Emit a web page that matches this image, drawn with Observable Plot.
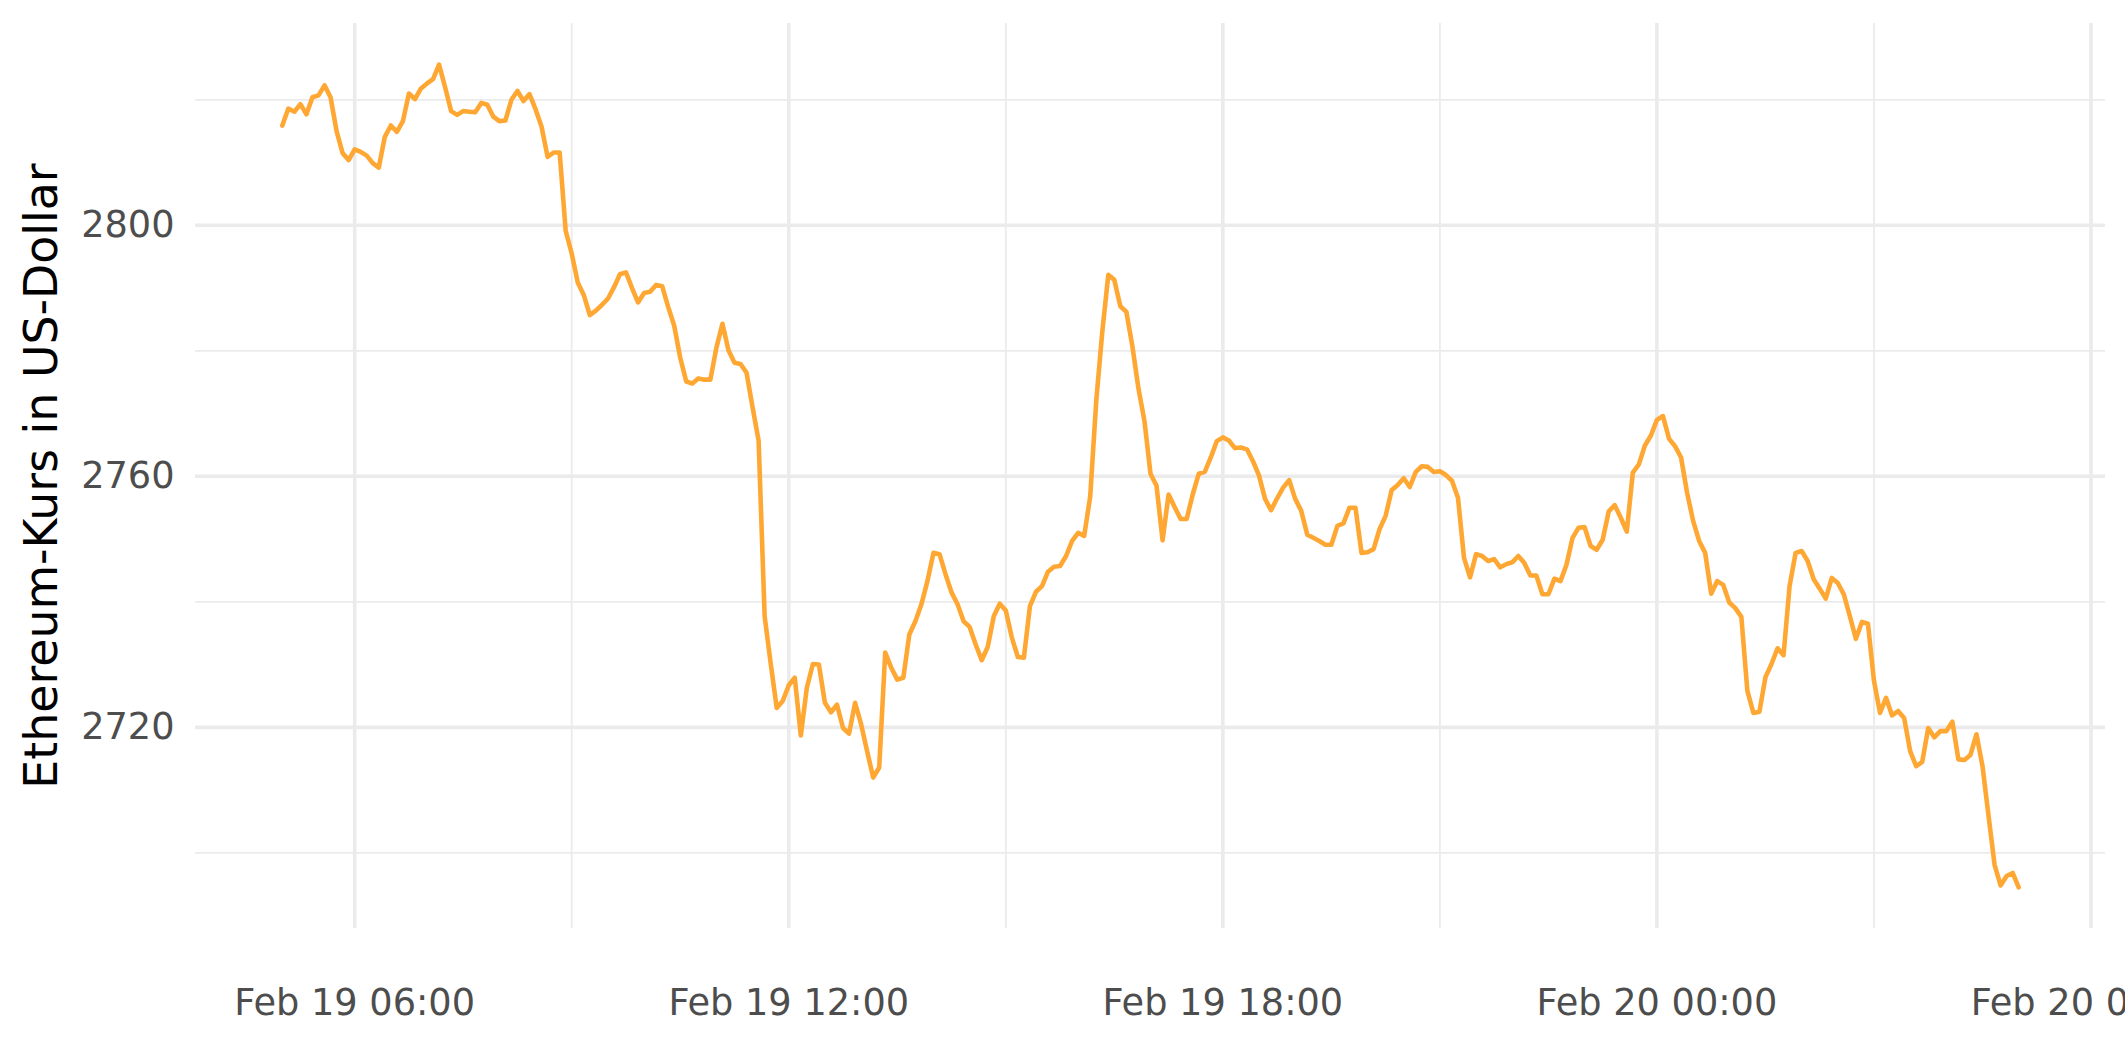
<!DOCTYPE html>
<html>
<head>
<meta charset="utf-8">
<script src="https://cdn.jsdelivr.net/npm/d3@7"></script>
<script src="https://cdn.jsdelivr.net/npm/@observablehq/plot@0.6"></script>
<style>
  html, body { margin: 0; padding: 0; background: #ffffff; }
  body { width: 2125px; height: 1062px; overflow: hidden; }
</style>
</head>
<body>
<div id="chart"></div>
<script>
// ---- data (5-minute closes, Feb 19 05:00 UTC to Feb 20 05:00 UTC) ----
const startTime = "2025-02-19T05:00:00Z";
const stepMinutes = 5;
const prices = [
  2815.9, 2818.6, 2818.1, 2819.3, 2817.7, 2820.4, 2820.7, 2822.3, 2820.4, 2815.0,
  2811.5, 2810.4, 2812.1, 2811.7, 2811.1, 2809.9, 2809.2, 2814.1, 2815.9, 2814.9,
  2816.6, 2821.0, 2820.1, 2821.8, 2822.6, 2823.3, 2825.6, 2822.0, 2818.2, 2817.6,
  2818.2, 2818.1, 2818.0, 2819.5, 2819.2, 2817.3, 2816.6, 2816.7, 2820.0, 2821.4,
  2819.8, 2820.9, 2818.5, 2815.7, 2810.9, 2811.6, 2811.6, 2799.1, 2795.5, 2790.9,
  2788.9, 2785.7, 2786.4, 2787.3, 2788.3, 2790.1, 2792.2, 2792.5, 2790.0, 2787.7,
  2789.2, 2789.4, 2790.5, 2790.3, 2787.0, 2784.0, 2778.9, 2775.1, 2774.8, 2775.6,
  2775.4, 2775.4, 2780.5, 2784.3, 2780.1, 2778.1, 2777.9, 2776.5, 2771.0, 2765.7,
  2737.7, 2730.2, 2723.1, 2724.2, 2726.7, 2727.9, 2718.7, 2726.3, 2730.1, 2730.0,
  2723.9, 2722.4, 2723.6, 2719.9, 2719.0, 2723.9, 2720.5, 2716.2, 2712.0, 2713.6,
  2731.9, 2729.5, 2727.6, 2727.9, 2734.8, 2736.9, 2739.6, 2743.3, 2747.8, 2747.6,
  2744.4, 2741.5, 2739.6, 2736.9, 2736.0, 2733.2, 2730.7, 2732.8, 2737.7, 2739.7,
  2738.6, 2734.3, 2731.2, 2731.1, 2739.3, 2741.6, 2742.5, 2744.8, 2745.6, 2745.7,
  2747.3, 2749.7, 2751.0, 2750.5, 2756.8, 2772.0, 2783.0, 2792.1, 2791.3, 2787.1,
  2786.2, 2780.7, 2774.0, 2768.8, 2760.4, 2758.5, 2749.8, 2757.1, 2755.1, 2753.2,
  2753.2, 2757.1, 2760.4, 2760.7, 2763.0, 2765.6, 2766.2, 2765.7, 2764.5, 2764.6,
  2764.3, 2762.4, 2760.1, 2756.4, 2754.6, 2756.5, 2758.2, 2759.4, 2756.4, 2754.5,
  2750.7, 2750.2, 2749.7, 2749.1, 2749.1, 2752.1, 2752.5, 2755.0, 2755.0, 2747.8,
  2747.9, 2748.4, 2751.6, 2753.7, 2757.8, 2758.6, 2759.7, 2758.3, 2760.7, 2761.6,
  2761.5, 2760.7, 2760.8, 2760.2, 2759.3, 2756.6, 2747.0, 2743.9, 2747.6, 2747.3,
  2746.5, 2746.8, 2745.5, 2746.0, 2746.3, 2747.3, 2746.2, 2744.2, 2744.2, 2741.2,
  2741.2, 2743.7, 2743.3, 2745.9, 2750.2, 2751.8, 2751.9, 2748.9, 2748.3, 2749.9,
  2754.4, 2755.4, 2753.4, 2751.2, 2760.6, 2761.9, 2764.9, 2766.5, 2769.0, 2769.6,
  2766.0, 2764.8, 2763.0, 2757.4, 2752.9, 2749.7, 2747.8, 2741.3, 2743.3, 2742.7,
  2739.9, 2739.0, 2737.6, 2725.8, 2722.3, 2722.5, 2728.0, 2730.1, 2732.6, 2731.5,
  2742.5, 2747.8, 2748.1, 2746.5, 2743.6, 2742.1, 2740.5, 2743.8, 2743.0, 2741.2,
  2737.7, 2734.1, 2736.8, 2736.5, 2727.4, 2722.3, 2724.7, 2721.9, 2722.6, 2721.5,
  2716.2, 2713.8, 2714.5, 2719.9, 2718.4, 2719.4, 2719.4, 2720.9, 2714.9, 2714.8,
  2715.6, 2718.9, 2713.8, 2705.9, 2698.1, 2694.8, 2696.3, 2696.8, 2694.5
];

// ---- axis ticks ----
const yMajorTicks = [2720, 2760, 2800];
const yMinorTicks = [2700, 2740, 2780, 2820];
const xMajorTicks = [
  "2025-02-19T06:00:00Z", "2025-02-19T12:00:00Z", "2025-02-19T18:00:00Z",
  "2025-02-20T00:00:00Z", "2025-02-20T06:00:00Z"
];
const xMinorTicks = [
  "2025-02-19T09:00:00Z", "2025-02-19T15:00:00Z", "2025-02-19T21:00:00Z",
  "2025-02-20T03:00:00Z"
];
const yTitle = "Ethereum-Kurs in US-Dollar";

// ---- build table ----
const t0 = new Date(startTime).getTime();
const data = prices.map((p, i) => ({ time: new Date(t0 + i * stepMinutes * 60000), price: p }));

// ggplot-style 5% expansion of the domains
const [tMin, tMax] = d3.extent(data, d => d.time.getTime());
const [pMin, pMax] = d3.extent(prices);
const tPad = (tMax - tMin) * 0.05, pPad = (pMax - pMin) * 0.05;
const xDomain = [new Date(tMin - tPad), new Date(tMax + tPad)];
const yDomain = [pMin - pPad, pMax + pPad];

const grid = "#EBEBEB";
const chart = Plot.plot({
  width: 2125,
  height: 1062,
  marginLeft: 195,
  marginRight: 20,
  marginTop: 23,
  marginBottom: 134,
  style: { fontFamily: "DejaVu Sans", fontSize: "36.7px", background: "#ffffff", overflow: "hidden" },
  x: { type: "utc", domain: xDomain },
  y: { domain: yDomain },
  marks: [
    Plot.ruleY(yMinorTicks, { stroke: grid, strokeWidth: 1.8 }),
    Plot.ruleX(xMinorTicks.map(d => new Date(d)), { stroke: grid, strokeWidth: 1.8 }),
    Plot.ruleY(yMajorTicks, { stroke: grid, strokeWidth: 3.6 }),
    Plot.ruleX(xMajorTicks.map(d => new Date(d)), { stroke: grid, strokeWidth: 3.6 }),
    Plot.lineY(data, { x: "time", y: "price", stroke: "#FFA733", strokeWidth: 4.6 }),
    Plot.axisX({
      ticks: xMajorTicks.map(d => new Date(d)),
      tickFormat: d3.utcFormat("%b %d %H:%M"),
      tickSize: 0, tickPadding: 60, color: "#4D4D4D", label: null
    }),
    Plot.axisY({
      ticks: yMajorTicks, tickFormat: d => String(d),
      tickSize: 0, tickPadding: 21, color: "#4D4D4D", label: null
    }),
    Plot.text([yTitle], {
      text: d => d, frameAnchor: "left", textAnchor: "middle", lineAnchor: "middle",
      dx: -153, rotate: -90, fontSize: 45.8, fill: "#000000"
    })
  ]
});
document.getElementById("chart").appendChild(chart);
</script>
</body>
</html>
